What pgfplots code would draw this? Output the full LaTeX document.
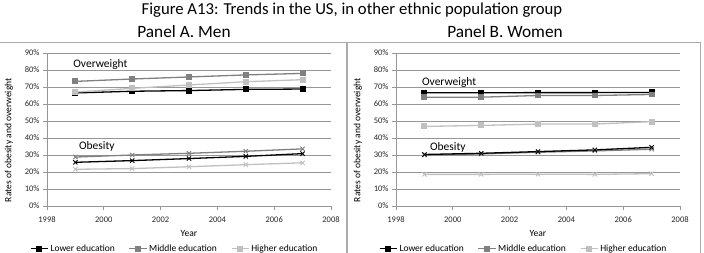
\documentclass[border=0pt]{standalone}
\usepackage{pgfplots}
\pgfplotsset{compat=1.18}
\usepackage{fontspec}
\setmainfont{Carlito}

\definecolor{lowc}{RGB}{0,0,0}
\definecolor{midc}{RGB}{128,128,128}
\definecolor{highc}{RGB}{192,192,192}
\definecolor{gridc}{RGB}{150,150,150}
\definecolor{framec}{RGB}{170,170,170}

\tikzset{note/.style={anchor=west, font=\fontsize{11.5}{13}\selectfont, inner sep=0pt}}

\pgfplotsset{
  panel/.style={
    scale only axis, width=284pt, height=153pt,
    xmin=1998, xmax=2008, ymin=0, ymax=90,
    xtick={1998,2000,...,2008}, ytick={0,10,...,90},
    /pgf/number format/1000 sep={},
    /pgf/number format/assume math mode=true,
    yticklabel={\pgfmathprintnumber{\tick}\%},
    axis x line*=bottom, axis y line*=left,
    axis line style={gridc, line width=0.7pt},
    tick style={gridc, line width=0.7pt},
    tick align=outside, major tick length=4pt,
    ymajorgrids, grid style={gridc, line width=0.7pt},
    ticklabel style={font=\fontsize{8.5}{10}\selectfont, text=black!85},
    xticklabel style={yshift=-3pt},
    xlabel={Year},
    xlabel style={font=\fontsize{9.5}{11}\selectfont, at={(axis description cs:0.5,-0.18)}, anchor=center},
    ylabel={Rates of obesity and overweight},
    ylabel style={font=\fontsize{9.5}{11}\selectfont, at={(axis description cs:-0.134,0.43)}, anchor=center, rotate=0},
    legend columns=3,
    legend style={draw=none, fill=none, font=\fontsize{9.5}{11}\selectfont,
      at={(axis description cs:0.45,-0.28)}, anchor=center,
      /tikz/every even column/.append style={column sep=12pt}},
    legend cell align=left,
  },
  ow/.style={line width=1.3pt, mark=square*, mark size=2.3pt, mark options={solid}},
  ob/.style={line width=1.3pt, mark=x, mark size=3pt, mark options={line width=0.9pt}, forget plot},
}

\begin{document}
\begin{tikzpicture}
\useasboundingbox (0pt,0pt) rectangle (704pt,253pt);

% panel frames
\draw[framec, line width=0.7pt] (-2pt,211pt) -- (346pt,211pt) -- (346pt,-2pt);
\draw[framec, line width=0.7pt] (347pt,-2pt) -- (347pt,211pt) -- (700pt,211pt) -- (700pt,-2pt);

% titles
\node[font=\fontsize{16.7}{19}\selectfont] at (352pt,243pt) {Figure A13: Trends in the US, in other ethnic population group};
\node[font=\fontsize{17.3}{20}\selectfont] at (184pt,221pt) {Panel A. Men};
\node[font=\fontsize{17.3}{20}\selectfont] at (505pt,221pt) {Panel B. Women};

% Panel A: men
\begin{axis}[panel, at={(47pt,47pt)}, anchor=south west]
\addplot[ow, color=lowc] coordinates {(1999,66.5) (2001,67.5) (2003,67.9) (2005,68.6) (2007,68.8)};
\addlegendentry{Lower education}
\addplot[ow, color=midc] coordinates {(1999,73.3) (2001,74.7) (2003,75.9) (2005,77.1) (2007,78.0)};
\addlegendentry{Middle education}
\addplot[ow, color=highc] coordinates {(1999,67.0) (2001,69.2) (2003,71.2) (2005,73.1) (2007,74.3)};
\addlegendentry{Higher education}
\addplot[ob, color=highc] coordinates {(1999,21.6) (2001,22.0) (2003,23.1) (2005,24.3) (2007,25.4)};
\addplot[ob, color=midc] coordinates {(1999,28.8) (2001,30.0) (2003,31.0) (2005,32.2) (2007,33.6)};
\addplot[ob, color=lowc] coordinates {(1999,25.7) (2001,26.7) (2003,27.9) (2005,29.2) (2007,30.8)};
\node[note] at (axis cs:1998.92,83.5) {Overweight};
\node[note] at (axis cs:1999.12,35.3) {Obesity};
\end{axis}

% Panel B: women
\begin{axis}[panel, at={(396pt,47pt)}, anchor=south west]
\addplot[ow, color=lowc] coordinates {(1999,66.6) (2001,66.6) (2003,66.7) (2005,66.7) (2007,66.8)};
\addlegendentry{Lower education}
\addplot[ow, color=midc] coordinates {(1999,64.0) (2001,64.0) (2003,65.0) (2005,65.0) (2007,65.6)};
\addlegendentry{Middle education}
\addplot[ow, color=highc] coordinates {(1999,46.8) (2001,47.4) (2003,48.2) (2005,48.2) (2007,49.6)};
\addlegendentry{Higher education}
\addplot[ob, color=highc] coordinates {(1999,18.6) (2001,18.6) (2003,18.7) (2005,18.6) (2007,19.0)};
\addplot[ob, color=midc] coordinates {(1999,30.0) (2001,30.6) (2003,31.6) (2005,32.4) (2007,33.4)};
\addplot[ob, color=lowc] coordinates {(1999,30.3) (2001,31.0) (2003,32.0) (2005,33.0) (2007,34.5)};
\node[note] at (axis cs:1998.91,72.8) {Overweight};
\node[note] at (axis cs:1999.19,34.5) {Obesity};
\end{axis}
\end{tikzpicture}
\end{document}
